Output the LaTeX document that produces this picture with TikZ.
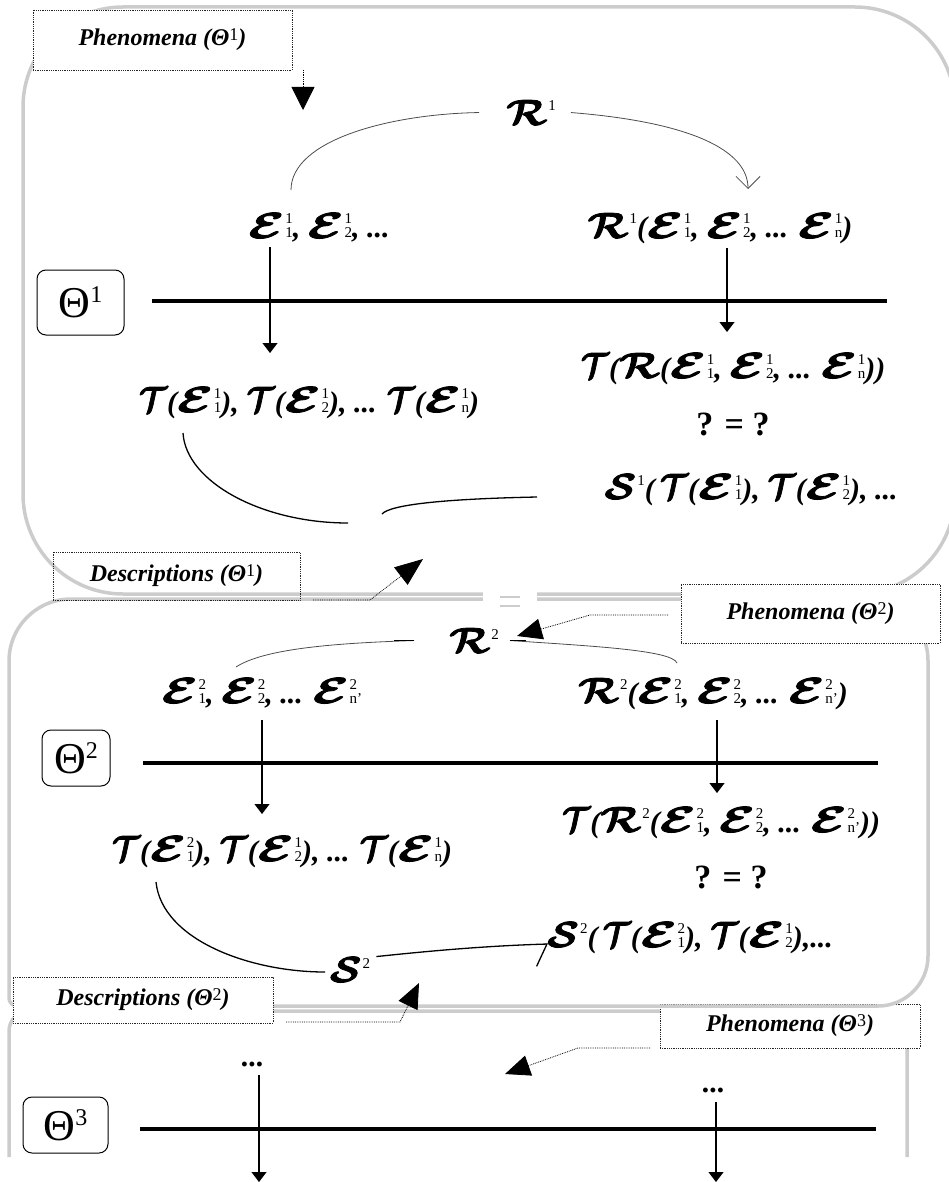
\documentclass[tikz,border=0pt]{standalone}
\usepackage{amsmath}
\usepackage{graphicx}
\usepackage{fontspec}
\setmainfont{Liberation Serif}
\usetikzlibrary{arrows.meta,calc}

\definecolor{panelgray}{RGB}{204,204,204}

% heavy script letters (outlined as well as filled, to thicken the strokes)
\newcommand{\callet}[3]{\scalebox{#2}[#3]{\special{pdf:literal direct 2 Tr 0.45 w 1 j}%
  \fontsize{20.74}{24}\selectfont$\boldsymbol{\mathcal{#1}}$\special{pdf:literal direct 0 Tr}}}
\newcommand{\cE}{\callet{E}{2.5}{1.75}}
\newcommand{\cR}{\callet{R}{2.0}{1.75}}
\newcommand{\cT}{\callet{T}{1.5}{1.75}}
\newcommand{\cS}{\callet{S}{2.0}{1.75}}
% stacked upper/lower index in small upright figures
\newcommand{\numfont}{\fontsize{15}{15}\selectfont\upshape\mdseries}
\newcommand{\ix}[2]{{\numfont\setbox0=\hbox{#1}\setbox2=\hbox{#2}%
  \ifdim\wd0>\wd2 \wd2=\wd0\fi
  \kern1pt\rlap{\raisebox{14pt}{\box0}}\box2}}
\newcommand{\labsup}[1]{\raisebox{5pt}{\fontsize{18}{18}\selectfont\upshape\mdseries #1}}
\newcommand{\thsup}[1]{\raisebox{15pt}{\fontsize{24}{24}\selectfont #1}}

\begin{document}
\begin{tikzpicture}[x=1pt,y=-1pt,
  panel/.style={draw=panelgray,line width=3.5pt},
  dotbox/.style={draw=black!85,line width=0.7pt,dash pattern=on 0.7pt off 1.1pt,inner sep=0pt,
    font=\fontsize{24}{28}\selectfont\bfseries\itshape},
  thbox/.style={draw,rounded corners=9pt,line width=1pt,inner sep=0pt,font=\fontsize{44}{48}\selectfont},
  formula/.style={anchor=base,inner sep=0pt,font=\fontsize{30}{34}\selectfont\bfseries\itshape},
  query/.style={anchor=base,inner sep=0pt,font=\fontsize{34}{38}\selectfont\bfseries},
  groundline/.style={line width=4pt},
  vdrop/.style={line width=1.1pt,-{Triangle[length=10pt,width=15pt]}},
  relarc/.style={draw=black!70,line width=0.8pt},
  descarc/.style={line width=1.3pt},
  pointer/.style={line width=0.8pt,dash pattern=on 0.8pt off 1pt,-{Triangle[length=25pt,width=21pt]}}]
\useasboundingbox (0,0) rectangle (949,1182);

% ---- frames of the three levels ----
\draw[panel] (9,1157) [rounded corners=20pt] -- (9,1011) -- (907,1011) [sharp corners] -- (907,1157);
\node[dotbox,fill=white,minimum width=260pt,minimum height=44pt] (ph3) at (790,1026) {Phenomena (Θ\labsup{3})};
\draw[panel,rounded corners=100pt] (23,7) rectangle (955,594);
\draw[panel] (9,800) [rounded corners=62pt] -- (9,599) -- (928,599) [rounded corners=50pt] -- (928,1006) [rounded corners=8pt] -- (9,1006) -- cycle;
\fill[white] (483,588) rectangle (537,604);
\draw[panelgray,line width=2pt] (500,597) -- (520,597) (500,606) -- (520,606);

% ---- label boxes ----
\node[dotbox,fill=white,minimum width=259pt,minimum height=60pt] (ph1) at (162.5,40) {Phenomena (Θ\labsup{1})};
\node[dotbox,minimum width=247pt,minimum height=48pt] (d1) at (176.5,576) {Descriptions (Θ\labsup{1})};
\node[dotbox,fill=white,minimum width=259pt,minimum height=59pt] (ph2) at (810.5,613.5) {Phenomena (Θ\labsup{2})};
\node[dotbox,fill=white,minimum width=260pt,minimum height=46pt] (d2) at (143,1000) {Descriptions (Θ\labsup{2})};

\node[thbox,minimum width=87pt,minimum height=65pt] (th1) at (80.5,302.5) {Θ\thsup{1}};
\node[thbox,minimum width=68pt,minimum height=56pt] (th2) at (76,758) {Θ\thsup{2}};
\node[thbox,minimum width=85pt,minimum height=56pt] (th3) at (65.5,1125) {Θ\thsup{3}};

% ---- level lines ----
\draw[groundline] (152,301) -- (887,301);
\draw[groundline] (143,763) -- (878,763);
\draw[groundline] (140,1129) -- (876,1129);

% ---- level 1 ----
\node[formula] (r1lab) at (531,125) {\cR\ix{1}{}};
\node[formula] (e1) at (319,238) {\cE\ix{1}{1}, \cE\ix{1}{2}, ...};
\node[formula] (re1) at (720,238) {\cR\ix{1}{}(\cE\ix{1}{1}, \cE\ix{1}{2}, ... \cE\ix{1}{n})};
\node[formula] (t1) at (309,412) {\cT(\cE\ix{1}{1}), \cT(\cE\ix{1}{2}), ... \cT(\cE\ix{1}{n})};
\node[formula] (tr1) at (733,378) {\cT(\cR(\cE\ix{1}{1}, \cE\ix{1}{2}, ... \cE\ix{1}{n}))};
\node[query] (q1) at (733,435) {? = ?};
\node[formula] (s1) at (751,499) {\cS\ix{1}{}(\,\cT(\cE\ix{1}{1}), \cT(\cE\ix{1}{2}), ...};

\coordinate (a1s) at (291,190);
\coordinate (a1e) at (748,189);
\draw[relarc] (a1s) .. controls (291,140) and (390,114) .. ([xshift=-27pt]r1lab.west);
\draw[relarc,-{Straight Barb[length=12pt,width=24pt]}] ([xshift=15pt]r1lab.east) .. controls (690,122) and (748,150) .. (a1e);

\coordinate (p1a) at (303,70);
\coordinate (p1b) at (303,110);
\draw[pointer,-{Triangle[length=23pt,width=23pt]}] (p1a) -- (p1b);

\coordinate (v1a) at (270,247);
\coordinate (v1b) at (270,353);
\coordinate (w1a) at (727,248);
\coordinate (w1b) at (727,332);
\draw[vdrop] (v1a) -- (v1b);
\draw[vdrop] (w1a) -- (w1b);

\coordinate (b1s) at (183,433);
\coordinate (b1m) at (348,523);
\coordinate (b1n) at (382,514);
\coordinate (b1e) at (537,497);
\draw[descarc] (b1s) .. controls (186,482) and (262,523) .. (b1m);
\draw[descarc] (b1n) .. controls (390,505) and (440,499) .. (b1e);

\coordinate (d1a) at (313,600);
\coordinate (d1k) at (370,600);
\coordinate (d1b) at (423,559);
\draw[pointer,-{Triangle[length=28pt,width=22pt]}] (d1a) -- (d1k) -- (d1b);

% ---- level 2 ----
\node[formula] (r2lab) at (474,653) {\cR\ix{2}{}};
\node[formula] (e2) at (262,703) {\cE\ix{2}{1}, \cE\ix{2}{2}, ... \cE\ix{2}{n'}};
\node[formula] (re2) at (713,703) {\cR\ix{2}{}(\cE\ix{2}{1}, \cE\ix{2}{2}, ... \cE\ix{2}{n'})};
\node[formula] (t2) at (282,861) {\cT(\cE\ix{2}{1}), \cT(\cE\ix{1}{2}), ... \cT(\cE\ix{1}{n})};
\node[formula] (tr2) at (721,832) {\cT(\cR\ix{2}{}(\cE\ix{2}{1}, \cE\ix{2}{2}, ... \cE\ix{2}{n'}))};
\node[query] (q2) at (731,888) {? = ?};
\node[formula] (s2) at (690,947) {\cS\ix{2}{}(\,\cT(\cE\ix{2}{1}), \cT(\cE\ix{1}{2}),...};
\node[formula] (s2lab) at (350,982) {\cS\ix{2}{}};

\coordinate (a2s) at (236,667);
\coordinate (a2e) at (677,663);
\draw[relarc] (a2s) .. controls (265,648) and (340,643) .. ([xshift=-35pt]r2lab.west);
\draw[line width=1.3pt] ([xshift=-55pt]r2lab.west) -- ([xshift=-35pt]r2lab.west);
\draw[relarc] ([xshift=11pt]r2lab.east) .. controls (590,646) and (672,650) .. (a2e);
\draw[line width=1.3pt] ([xshift=11pt]r2lab.east) -- ([xshift=27pt]r2lab.east);

\coordinate (p2a) at (668,615);
\coordinate (p2k) at (590,615);
\coordinate (p2b) at (517,636);
\draw[pointer] (p2a) -- (p2k) -- (p2b);

\coordinate (v2a) at (262,720);
\coordinate (v2b) at (262,814);
\coordinate (w2a) at (717,720);
\coordinate (w2b) at (717,793);
\draw[vdrop] (v2a) -- (v2b);
\draw[vdrop] (w2a) -- (w2b);

\coordinate (b2s) at (156,882);
\coordinate (b2m) at (325,972);
\coordinate (b2e) at (548,944);
\draw[descarc] (b2s) .. controls (162,940) and (250,972) .. (b2m);
\draw[descarc,-{Straight Barb[harpoon,swap,length=11pt,width=44pt]}] ([xshift=6pt,yshift=13pt]s2lab.east) .. controls (420,952) and (480,946) .. (b2e);

\coordinate (d2a) at (286,1022);
\coordinate (d2k) at (400,1022);
\coordinate (d2b) at (419,983);
\draw[pointer] (d2a) -- (d2k) -- (d2b);

% ---- level 3 ----
\node[formula] (dots3l) at (253,1066) {...};
\node[formula] (dots3r) at (714,1092) {...};

\coordinate (p3a) at (650,1048);
\coordinate (p3k) at (578,1048);
\coordinate (p3b) at (505,1074);
\draw[pointer] (p3a) -- (p3k) -- (p3b);

\coordinate (v3a) at (259,1075);
\coordinate (v3b) at (259,1182);
\coordinate (w3a) at (716,1102);
\coordinate (w3b) at (716,1182);
\draw[vdrop] (v3a) -- (v3b);
\draw[vdrop] (w3a) -- (w3b);
\end{tikzpicture}
\end{document}
